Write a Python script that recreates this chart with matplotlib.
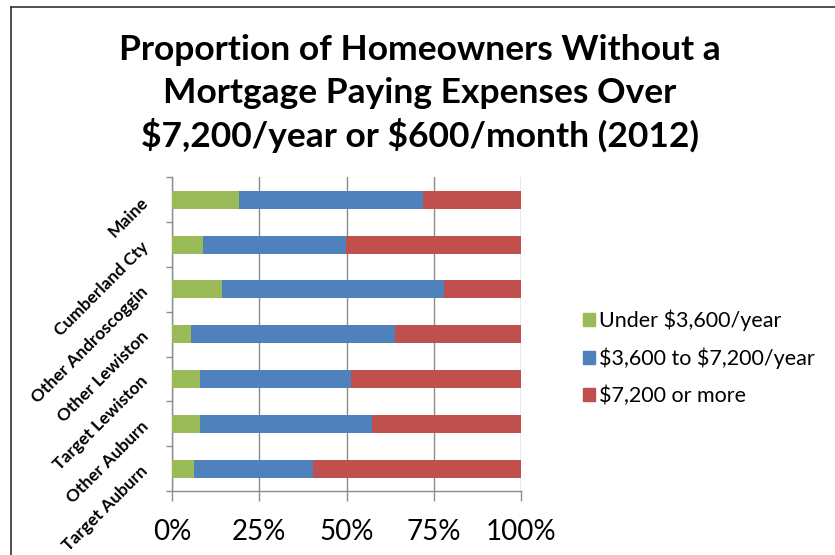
import numpy as np
import matplotlib.pyplot as plt
from matplotlib.lines import Line2D

categories = ["Maine", "Cumberland Cty", "Other Androscoggin", "Other Lewiston",
              "Target Lewiston", "Other Auburn", "Target Auburn"]
under_3600 = [19.3, 8.8, 14.4, 5.5, 8.1, 8.1, 6.2]
mid_3600_7200 = [52.7, 41.0, 63.6, 58.4, 43.1, 49.2, 34.2]
over_7200 = [28.0, 50.2, 22.0, 36.1, 48.8, 42.7, 59.6]
series_names = ["Under $3,600/year", "$3,600 to $7,200/year", "$7,200 or more"]
xticks = [0, 25, 50, 75, 100]
xtick_labels = ["0%", "25%", "50%", "75%", "100%"]

colors = ["#9BBB59", "#4F81BD", "#C0504D"]
grid_c = "#8C8C8C"

plt.rcParams["font.family"] = ["Lato", "DejaVu Sans"]
plt.rcParams["text.parse_math"] = False  # dollar signs are literal

fig = plt.figure(figsize=(8.35, 5.55), dpi=100)
ax = fig.add_axes([172 / 835, 1 - 491 / 555, 349 / 835, 313.6 / 555])

y = np.arange(len(categories))
left = np.zeros(len(categories))
for vals, c, name in zip([under_3600, mid_3600_7200, over_7200], colors, series_names):
    ax.barh(y, vals, left=left, height=0.4, color=c, label=name, zorder=3)
    left += np.array(vals)

ax.set_xlim(0, 100)
ax.set_ylim(len(categories) - 0.5, -0.5)
ax.set_xticks(xticks)
ax.set_xticklabels(xtick_labels, fontsize=20)
ax.xaxis.grid(True, color=grid_c, lw=1, zorder=0)
ax.tick_params(axis="x", direction="out", length=7, width=1, color=grid_c, pad=13)

# category labels sit between boundary ticks, excel style
ax.set_yticks(y)
ax.set_yticklabels(categories, fontsize=12.5, fontweight="bold", rotation=45,
                   ha="right", va="center", rotation_mode="anchor")
ax.tick_params(axis="y", which="major", length=0, pad=19)
ax.set_yticks(np.arange(-0.5, len(categories)), minor=True)
ax.tick_params(axis="y", which="minor", direction="out", length=4, width=1, color=grid_c)

for s in ["top", "right"]:
    ax.spines[s].set_visible(False)
for s in ["left", "bottom"]:
    ax.spines[s].set_color(grid_c)
    ax.spines[s].set_linewidth(1)

handles = [plt.Rectangle((0, 0), 1, 1, color=c) for c in colors]
fig.legend(handles, series_names, loc="center left", bbox_to_anchor=(564 / 835, 1 - 358 / 555),
           frameon=False, fontsize=15.5, handlelength=0.55, handleheight=0.55,
           handletextpad=0.18, labelspacing=0.77)

title_lines = ["Proportion of Homeowners Without a",
               "Mortgage Paying Expenses Over",
               "$7,200/year or $600/month (2012)"]
for i, line in enumerate(title_lines):
    fig.text(420 / 835, 1 - (50 + 43 * i) / 555, line, ha="center", va="center",
             fontsize=25.5, fontweight="bold")

# chart frame
fig.add_artist(Line2D([11 / 835, 1], [1 - 7 / 555, 1 - 7 / 555], color="#333333", lw=1.2))
fig.add_artist(Line2D([11 / 835, 11 / 835], [0, 1 - 7 / 555], color="#333333", lw=1.2))

fig.savefig("out.png", dpi=100)
